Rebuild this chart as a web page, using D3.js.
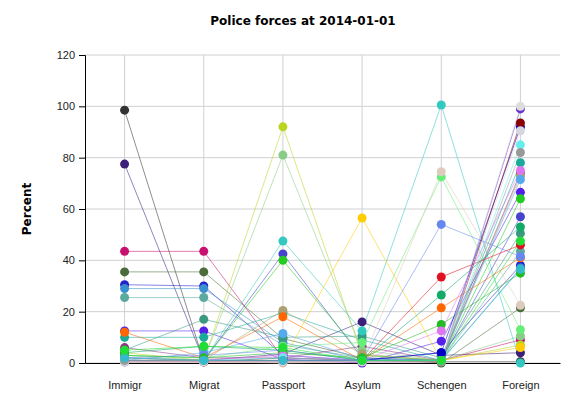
<!DOCTYPE html>
<html>
<head>
<meta charset="utf-8">
<script src="https://cdnjs.cloudflare.com/ajax/libs/d3/7.8.5/d3.min.js"></script>
<style>
  body { margin: 0; background: #fff; }
  svg { font-family: "DejaVu Sans", Verdana, sans-serif; }
  .grid line { stroke: #d0d0d0; stroke-width: 1; }
  .axis text { font-size: 11px; fill: #222; }
</style>
</head>
<body>
<div id="chart"></div>
<script>
// Categories on the x axis
var categories = ["Immigr", "Migrat", "Passport", "Asylum", "Schengen", "Foreign"];
var yTicks = [0, 20, 40, 60, 80, 100, 120];

// One colour and one row of values per series
var seriesColors = [
  "#6633cc", "#333333", "#3c1f78", "#c8106e", "#4a6b3a", "#2222cc",
  "#3a8fd0", "#5aaaa0", "#5520e8", "#1aaa9a", "#8a3a80", "#3a9a80",
  "#bbd420", "#88cc88", "#33c8c0", "#4444cc", "#22cc22", "#aaa070",
  "#ff6600", "#55aaee", "#66ee77", "#ffcc00", "#ddccbb", "#6688ee",
  "#e01020", "#11aa66", "#22bb22", "#dd77ee", "#0000cc", "#8b0000",
  "#dddddd", "#d6d6e0", "#66eeee", "#999999", "#33bbcc", "#22dd33"
];
var seriesValues = [
  [0.5, 0.5, 0.5, 0.5, 0.5, 99],
  [98.5, 0.5, 2, 1, 0.5, 0.5],
  [77.5, 1, 3.5, 16, 3, 4],
  [43.5, 43.5, 2, 1, 1, 9],
  [35.5, 35.5, 9.5, 2, 0, 21.5],
  [30.5, 30, 3, 1, 4, 38],
  [29, 29, 8, 1, 1, 37],
  [25.5, 25.5, 7, 2, 1, 43.5],
  [12.5, 12.5, 1.5, 0, 8.5, 66.5],
  [10, 10, 19.5, 9, 1, 78],
  [6, 2, 2, 6.5, 1, 74],
  [5, 17, 10, 10.5, 2, 50.5],
  [4, 1, 92, 3, 1, 7],
  [3, 1, 81, 5, 1, 10.5],
  [2, 1, 47.5, 12.5, 100.5, 0],
  [1, 1, 42.5, 2, 1, 57],
  [2, 1, 40, 3, 1, 64],
  [1, 1, 20.5, 3.5, 1, 73],
  [12, 2, 18, 1, 21.5, 41],
  [1, 4, 11.5, 1.5, 1, 71.5],
  [3, 2, 6.5, 8, 72.5, 13],
  [1, 1, 1, 56.5, 1, 6],
  [0.5, 0.5, 0, 0.5, 74.5, 22.5],
  [2, 3, 5, 1, 54, 41.5],
  [1, 0.5, 1, 1, 33.5, 46],
  [4, 6.5, 5, 1, 26.5, 53],
  [3, 2, 4, 2, 15, 35],
  [2, 1, 3, 1, 12.5, 75],
  [1, 1, 1, 1, 4, 92],
  [0.5, 0.5, 0.5, 0.5, 0.5, 93.5],
  [0.5, 0.5, 0.5, 0.5, 0.5, 100],
  [0.5, 0.5, 0.5, 0.5, 1, 90.5],
  [1, 1, 2, 1, 1, 85],
  [1, 1, 1, 1, 0.5, 82],
  [2, 1, 1, 1, 1, 36.5],
  [5, 6.5, 6, 1, 1, 47.5]
];

var margin = {top: 55, right: 20, bottom: 37, left: 85},
    width = 580 - margin.left - margin.right,
    height = 400 - margin.top - margin.bottom;

var svg = d3.select("#chart")
  .append("svg")
    .attr("width", 580)
    .attr("height", 400)
  .append("g")
    .attr("transform", "translate(" + margin.left + "," + margin.top + ")");

var x = d3.scalePoint()
    .domain(categories)
    .range([0, width])
    .padding(0.5);

var y = d3.scaleLinear()
    .domain([0, 120])
    .range([height, 0]);

// Grid lines
svg.append("g")
    .attr("class", "grid")
  .selectAll("line.h")
  .data(yTicks)
  .enter().append("line")
    .attr("x1", 0).attr("x2", width)
    .attr("y1", function(d) { return y(d); })
    .attr("y2", function(d) { return y(d); });
svg.append("g")
    .attr("class", "grid")
  .selectAll("line.v")
  .data(categories)
  .enter().append("line")
    .attr("y1", 0).attr("y2", height)
    .attr("x1", function(d) { return x(d); })
    .attr("x2", function(d) { return x(d); });

// Axes
svg.append("g")
    .attr("class", "axis")
    .call(d3.axisLeft(y).tickValues(yTicks).tickSize(6).tickPadding(4));
svg.append("g")
    .attr("class", "axis")
    .attr("transform", "translate(0," + height + ")")
    .call(d3.axisBottom(x).tickSize(0).tickPadding(18).tickSizeOuter(0));

// Lines and points per series
var line = d3.line()
    .x(function(d, i) { return x(categories[i]); })
    .y(function(d) { return y(d); });

seriesValues.forEach(function(vals, s) {
  svg.append("path")
      .datum(vals)
      .attr("fill", "none")
      .attr("stroke", seriesColors[s])
      .attr("stroke-opacity", 0.55)
      .attr("stroke-width", 1)
      .attr("d", line);
});
seriesValues.forEach(function(vals, s) {
  svg.selectAll(null)
      .data(vals)
      .enter().append("circle")
        .attr("cx", function(d, i) { return x(categories[i]); })
        .attr("cy", function(d) { return y(d); })
        .attr("r", 4.5)
        .attr("fill", seriesColors[s]);
});

// Title
svg.append("text")
    .attr("x", 218)
    .attr("y", -30)
    .attr("text-anchor", "middle")
    .style("font-size", "12px")
    .style("font-weight", "bold")
    .text("Police forces at 2014-01-01");

// Y label
svg.append("text")
    .attr("transform", "rotate(-90)")
    .attr("x", -height / 2)
    .attr("y", -54)
    .attr("text-anchor", "middle")
    .style("font-size", "12px")
    .style("font-weight", "bold")
    .text("Percent");
</script>
</body>
</html>
